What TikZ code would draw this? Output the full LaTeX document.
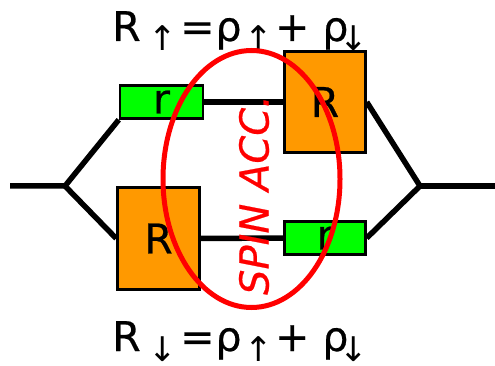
\documentclass[tikz,border=0pt]{standalone}
\usepackage{fontspec}
\usetikzlibrary{shapes.geometric}
\setmainfont{DejaVu Sans}
\newfontfamily\heavyfont[FakeBold=0.5]{DejaVu Sans}
\definecolor{resorange}{RGB}{255,153,0}
\newcommand{\bigsize}{\fontsize{41}{41}\selectfont\heavyfont}
\newcommand{\arr}[1]{\raisebox{-10pt}{\fontsize{34}{34}\selectfont\rmfamily #1}}
\tikzset{
  wire/.style={line width=5.5pt},
  resbox/.style={draw,line width=2.5pt,inner sep=0pt,font=\bigsize},
  eqn/.style={inner sep=0pt,font=\bigsize,anchor=base west},
}
\begin{document}
\begin{tikzpicture}[x=1pt,y=-1pt]
  \useasboundingbox (0,0) rectangle (495,366);
  \coordinate (inl) at (10,186);
  \coordinate (outr) at (495,186);
  \coordinate (jl) at (65,186);
  \coordinate (jr) at (420,186);
  \node[resbox,fill=green,minimum width=83pt,minimum height=33pt] (rtop) at (161.5,102) {r};
  \node[resbox,fill=resorange,minimum width=81pt,minimum height=101pt] (Rtop) at (325,102) {R};
  \node[resbox,fill=resorange,minimum width=82pt,minimum height=102pt] (Rbot) at (158.5,238.5) {R};
  \node[resbox,fill=green,minimum width=81pt,minimum height=33pt] (rbot) at (325,238) {r};
  \draw[wire] (inl) -- (jl) -- (rtop.south west);
  \draw[wire] (jl) -- (Rbot.west);
  \draw[wire] (rtop) -- (Rtop);
  \draw[wire] (Rbot) -- (rbot);
  \draw[wire] (Rtop.east) -- (jr) -- (rbot.east);
  \draw[wire] (jr) -- (outr);
  \node[eqn] (top) at (112,41) {R\kern8pt\arr{↑}\kern3pt=\kern1ptρ\kern3pt\arr{↑}\kern2pt+\kern13ptρ\kern-9pt\arr{↓}};
  \node[eqn] (bottom) at (112,351) {R\kern8pt\arr{↓}\kern3pt=\kern1ptρ\kern3pt\arr{↑}\kern2pt+\kern13ptρ\kern-9pt\arr{↓}};
  \node[draw=red,line width=5pt,ellipse,minimum width=177pt,minimum height=257pt,inner sep=0pt] (acc) at (251.5,179) {};
  \node[red,rotate=90,font=\fontsize{40}{40}\selectfont\heavyfont\itshape,inner sep=0pt] (spin) at (254,195) {SPIN ACC.};
\end{tikzpicture}
\end{document}
